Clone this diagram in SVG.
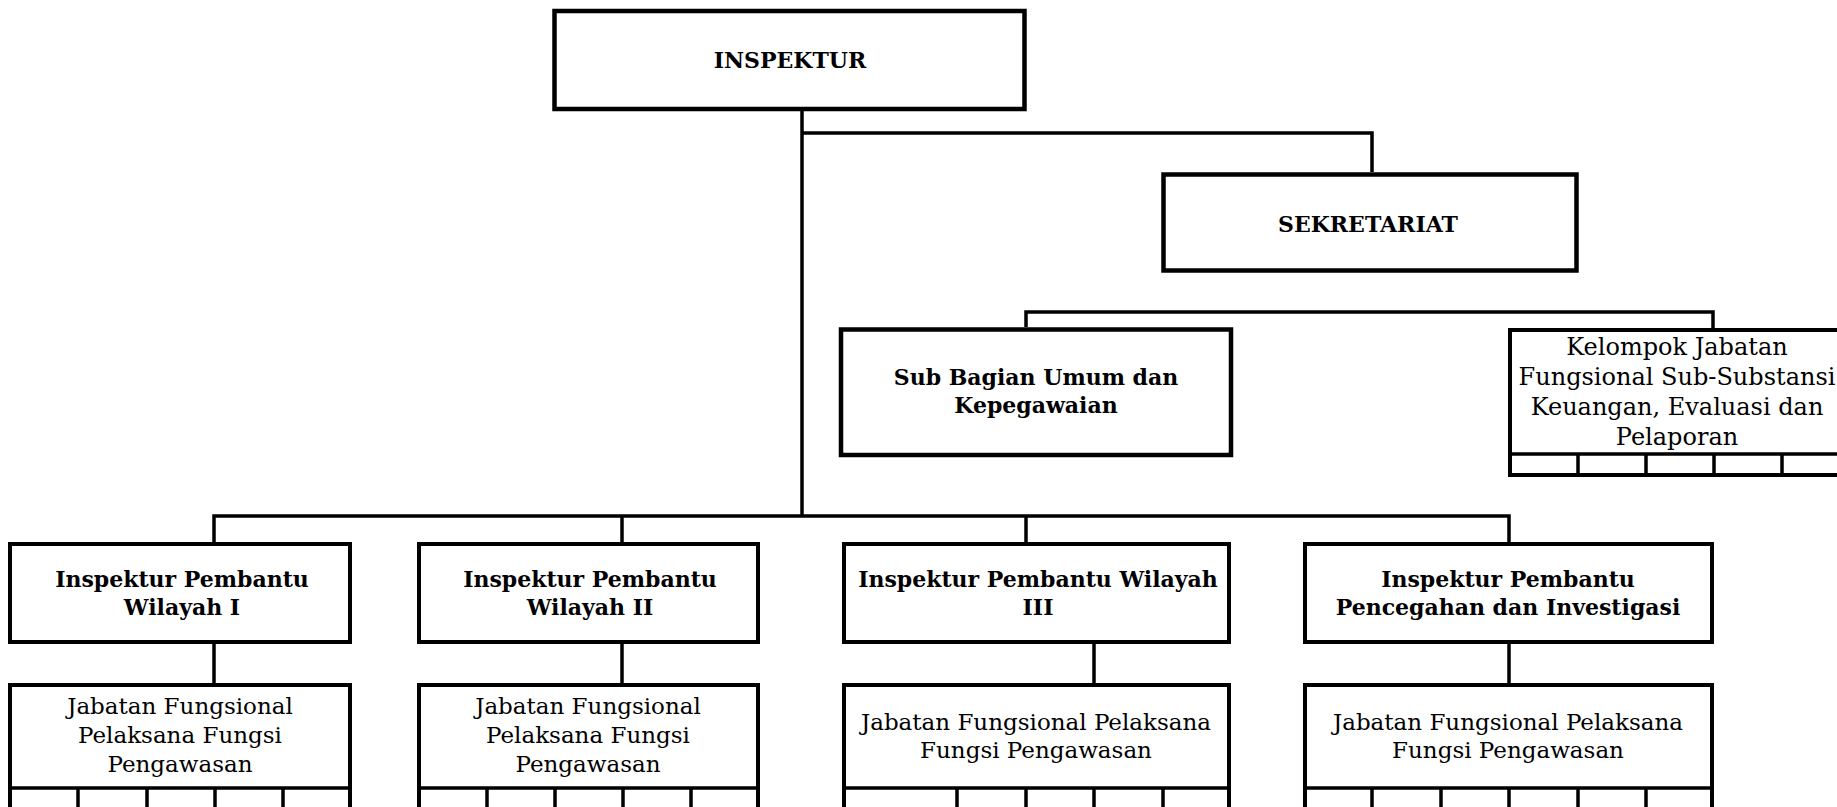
<svg xmlns="http://www.w3.org/2000/svg" width="1837" height="807" viewBox="0 0 1837 807">
<style>
.bx{fill:#fff;stroke:#000;stroke-width:4}
.bxt{fill:#fff;stroke:#000;stroke-width:4.5}
.ln{fill:none;stroke:#000;stroke-width:3.5}
.b{font-family:"DejaVu Serif","Liberation Serif",serif;font-weight:bold;font-size:22px;text-anchor:middle;fill:#000}
.r{font-family:"DejaVu Serif","Liberation Serif",serif;font-size:23px;text-anchor:middle;fill:#000}
.k{font-size:24px}
</style>
<rect width="1837" height="807" fill="#fff"/>
<g id="connectors">
<path class="ln" d="M802 111 V516"/>
<path class="ln" d="M802 133 H1372 V172"/>
<path class="ln" d="M1026 327 V312 H1713 V330"/>
<path class="ln" d="M214 543 V516 H1509 V543"/>
<path class="ln" d="M622 516 V543"/>
<path class="ln" d="M1026 516 V543"/>
<path class="ln" d="M214 644 V683"/>
<path class="ln" d="M622 644 V683"/>
<path class="ln" d="M1094 644 V683"/>
<path class="ln" d="M1509 644 V683"/>
</g>
<g id="inspektur">
<rect class="bxt" x="554.5" y="11" width="470" height="98"/>
<text class="b" x="790" y="68">INSPEKTUR</text>
</g>
<g id="sekretariat">
<rect class="bxt" x="1163.5" y="174.5" width="413" height="96"/>
<text class="b" x="1368" y="232">SEKRETARIAT</text>
</g>
<g id="subbagian">
<rect class="bxt" x="841" y="329.5" width="390" height="125.5"/>
<text class="b" x="1036" y="385">Sub Bagian Umum dan</text>
<text class="b" x="1036" y="413">Kepegawaian</text>
</g>
<g id="kelompok">
<rect class="bx" x="1510" y="330" width="360" height="145"/>
<path class="ln" d="M1510 454 H1870 M1578 454 V475 M1646 454 V475 M1714 454 V475 M1782 454 V475 M1850 454 V475"/>
<text class="r k" x="1677" y="355">Kelompok Jabatan</text>
<text class="r k" x="1677" y="385">Fungsional Sub-Substansi</text>
<text class="r k" x="1677" y="415">Keuangan, Evaluasi dan</text>
<text class="r k" x="1677" y="445">Pelaporan</text>
</g>
<g id="irban1">
<rect class="bx" x="10" y="544" width="340" height="98"/>
<text class="b" x="182" y="587">Inspektur Pembantu</text>
<text class="b" x="182" y="615">Wilayah I</text>
</g>
<g id="jf1">
<rect class="bx" x="10" y="685" width="340" height="140"/>
<path class="ln" d="M10 788 H350 M78 788 V810 M147 788 V810 M215 788 V810 M283 788 V810"/>
<text class="r" x="180" y="714">Jabatan Fungsional</text>
<text class="r" x="180" y="743">Pelaksana Fungsi</text>
<text class="r" x="180" y="772">Pengawasan</text>
</g>
<g id="irban2">
<rect class="bx" x="419" y="544" width="339" height="98"/>
<text class="b" x="590" y="587">Inspektur Pembantu</text>
<text class="b" x="590" y="615">Wilayah II</text>
</g>
<g id="jf2">
<rect class="bx" x="419" y="685" width="339" height="140"/>
<path class="ln" d="M419 788 H758 M487 788 V810 M555 788 V810 M623 788 V810 M691 788 V810"/>
<text class="r" x="588" y="714">Jabatan Fungsional</text>
<text class="r" x="588" y="743">Pelaksana Fungsi</text>
<text class="r" x="588" y="772">Pengawasan</text>
</g>
<g id="irban3">
<rect class="bx" x="844" y="544" width="385" height="98"/>
<text class="b" x="1038" y="587">Inspektur Pembantu Wilayah</text>
<text class="b" x="1038" y="615">III</text>
</g>
<g id="jf3">
<rect class="bx" x="844" y="685" width="385" height="140"/>
<path class="ln" d="M844 788 H1229 M957 788 V810 M1026 788 V810 M1094 788 V810 M1163 788 V810"/>
<text class="r" x="1036" y="730">Jabatan Fungsional Pelaksana</text>
<text class="r" x="1036" y="758">Fungsi Pengawasan</text>
</g>
<g id="irban4">
<rect class="bx" x="1305" y="544" width="407" height="98"/>
<text class="b" x="1508" y="587">Inspektur Pembantu</text>
<text class="b" x="1508" y="615">Pencegahan dan Investigasi</text>
</g>
<g id="jf4">
<rect class="bx" x="1305" y="685" width="407" height="140"/>
<path class="ln" d="M1305 788 H1712 M1372 788 V810 M1441 788 V810 M1509 788 V810 M1578 788 V810 M1646 788 V810"/>
<text class="r" x="1508" y="730">Jabatan Fungsional Pelaksana</text>
<text class="r" x="1508" y="758">Fungsi Pengawasan</text>
</g>
</svg>
